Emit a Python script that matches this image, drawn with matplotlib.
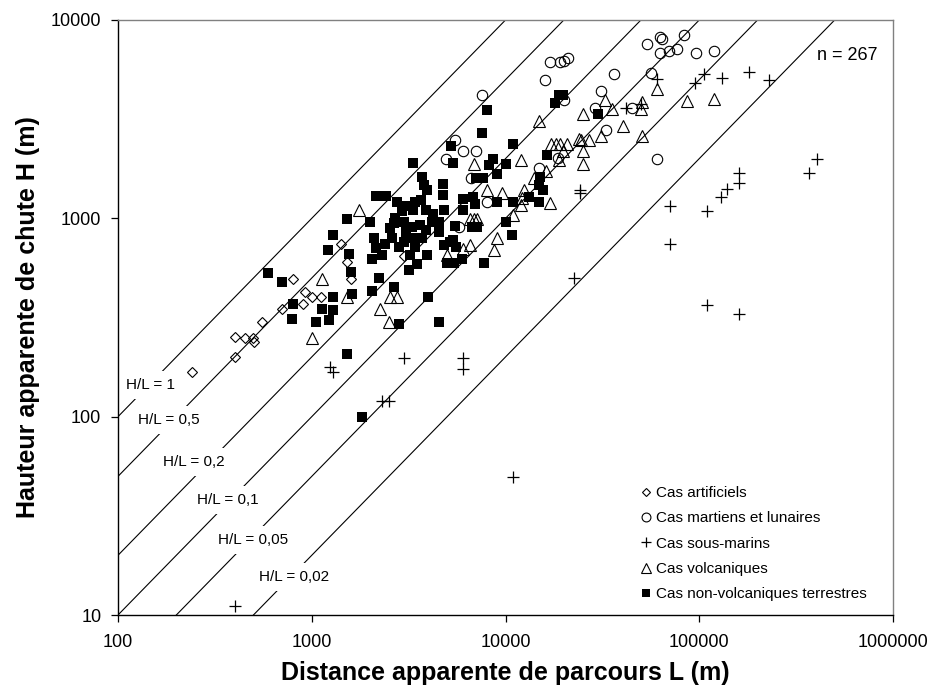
import matplotlib
matplotlib.use('Agg')
import matplotlib.pyplot as plt
import numpy as np

plt.rcParams['font.family'] = ['Liberation Sans', 'DejaVu Sans']

# Cas artificiels
art_L = [240, 402, 402, 452, 499, 503, 552, 700, 803, 904, 923, 1006, 1116, 1410, 1514, 1589, 2993]
art_H = [168, 200, 251, 250, 248, 237, 300, 351, 497, 369, 425, 399, 401, 746, 600, 497, 644]

# Cas martiens et lunaires
mars_L = [7540, 5487, 6013, 7018, 4931, 6610, 8054, 5775, 16970, 19100, 20110, 20940, 15990, 20110,
          36310, 31110, 28970, 33020, 14940, 18730, 53550, 62700, 64450, 62700, 70040, 76470, 83400,
          95870, 119600, 56150, 44800, 60280]
mars_H = [4165, 2492, 2183, 2183, 2000, 1603, 1208, 904, 6130, 6130, 6180, 6420, 4997, 3963,
          5357, 4363, 3611, 2798, 1801, 2022, 7586, 8195, 7978, 6805, 6965, 7104, 8356,
          6805, 6965, 5395, 3611, 2000]

# Cas sous-marins
sub_L = [60280, 95060, 105800, 130600, 180600, 229900, 49860, 70630, 110000, 129000, 139600,
         160900, 160900, 403700, 369800, 70630, 110000, 160900, 24240, 24240, 22570, 41870,
         3004, 6013, 6013, 2296, 2513, 10970, 1242, 1282, 402]
sub_H = [5012, 4804, 5313, 5114, 5458, 4997, 3783, 1150, 1088, 1281, 1400,
         1698, 1506, 1983, 1692, 746, 364.5, 331, 1384, 1342, 500, 3611,
         198.7, 198.7, 173.5, 120.1, 120, 49.7, 178, 168, 11.1]

# Cas volcaniques
volc_L = [14940, 25210, 32620, 35320, 40270, 17110, 18160, 19100, 20840, 24040, 24440, 27070,
          31000, 25210, 19870, 18950, 25210, 16180, 14030, 11980, 6902, 8054, 9556, 12460, 11980,
          16970, 10970, 6558, 6877, 1760, 9008, 8750, 6558, 6013, 5008, 2535, 2764, 2251, 2504,
          60280, 50470, 49860, 86100, 119600, 50470, 1126, 1006, 1514, 7153, 12160]
volc_H = [3091, 3342, 3931, 3569, 2907, 2359, 2359, 2359, 2359, 2521, 2472, 2472,
          2588, 2183, 2183, 1976, 1886, 1730, 1596, 1976, 1886, 1384, 1342, 1384, 1163,
          1194, 1044, 997, 997, 1097, 796, 696, 737, 703, 651, 401, 401, 348, 300,
          4502, 3855, 3569, 3885, 3977, 2588, 497, 248, 401, 997, 1259]

# Cas non-volcaniques terrestres
terr_L = [597, 700, 803, 794, 1052, 1126, 1206, 1287, 1283, 1227, 1292, 1515, 1566, 1515,
          3343, 5378, 3694, 3796, 4775, 4741, 2146, 2417, 2745, 2913, 3411, 3343, 3887, 4815,
          6056, 6056, 6821, 6961, 1998, 2658, 2535, 3065, 3620, 4160, 4553, 4553, 5489,
          2096, 2388, 2146, 2831, 2993, 3343, 3411, 2039, 2296, 3215, 3920, 3506, 3188,
          4815, 5378, 4972, 5424, 5941, 1589, 2216, 1608, 2039, 2658, 3995, 2831, 4553,
          8054, 7540, 10900, 5214, 16430, 18950, 19870, 18010, 30130, 8590, 8250, 9008,
          10060, 7018, 7627, 15070, 14940, 15560, 3651, 9008, 10900, 13270, 14940, 10060,
          6692, 7100, 10760, 5170, 5553, 7745, 1811, 3920,
          2700, 3000, 3300, 3700, 3900, 2600, 4200, 3100]
terr_H = [530, 478, 372, 309, 300, 351, 696, 821, 344, 306, 401, 997, 664, 206,
          1899, 1899, 1615, 1466, 1495, 1306, 1291, 1291, 1208, 1088, 1208, 1097, 1097, 1097,
          1257, 1097, 1281, 1186, 958, 947, 898, 853, 922, 958, 958, 853, 911,
          800, 740, 712, 717, 760, 800, 717, 627, 651, 651, 651, 587, 552,
          731, 775, 596, 596, 627, 536, 503, 414, 430, 451, 401, 292, 300,
          3500, 2690, 2378, 2305, 2077, 4200, 4165, 3810, 3370, 2000, 1849, 1680,
          1886, 1603, 1603, 1615, 1466, 1395, 1243, 1208, 1208, 1281, 1208, 958,
          904, 904, 821, 760, 717, 596, 100, 1395,
          1000, 960, 900, 800, 870, 800, 1050, 1150]

# rapports H/L des droites de reference et position de leurs etiquettes
ratios = [1, 0.5, 0.2, 0.1, 0.05, 0.02]
ratio_labels = ['H/L = 1', 'H/L = 0,5', 'H/L = 0,2', 'H/L = 0,1', 'H/L = 0,05', 'H/L = 0,02']
label_L = [147, 182, 245, 367, 495, 810]
label_H = [144, 96, 59, 38, 23.9, 15.6]

x_ticks = [100, 1000, 10000, 100000, 1000000]
x_ticklabels = ['100', '1000', '10000', '100000', '1000000']
y_ticks = [10, 100, 1000, 10000]
y_ticklabels = ['10', '100', '1000', '10000']

fig = plt.figure(figsize=(9.33, 6.9), dpi=100)
ax = fig.add_axes([118 / 933, 1 - 615 / 690, 775 / 933, 595 / 690])
ax.set_xscale('log')
ax.set_yscale('log')
ax.set_xlim(100, 1e6)
ax.set_ylim(10, 1e4)

# droites H/L constantes
Lr = np.array([100, 1e6])
for r in ratios:
    ax.plot(Lr, r * Lr, color='black', lw=0.8, zorder=1)
for txt, lx, ly in zip(ratio_labels, label_L, label_H):
    ax.text(lx, ly, txt, fontsize=11, ha='center', va='center', zorder=2,
            bbox=dict(boxstyle='square,pad=0.45', facecolor='white', edgecolor='none'))

mk = dict(linestyle='none', color='black', zorder=3)
ax.plot(art_L, art_H, marker='D', markersize=4.8, markerfacecolor='none', markeredgewidth=0.8,
        label='Cas artificiels', **mk)
ax.plot(mars_L, mars_H, marker='o', markersize=7.5, markerfacecolor='none', markeredgewidth=0.8,
        label='Cas martiens et lunaires', **mk)
ax.plot(sub_L, sub_H, marker='+', markersize=8.5, markeredgewidth=0.9,
        label='Cas sous-marins', **mk)
ax.plot(volc_L, volc_H, marker='^', markersize=8.3, markerfacecolor='none', markeredgewidth=0.8,
        label='Cas volcaniques', **mk)
ax.plot(terr_L, terr_H, marker='s', markersize=7.2, markerfacecolor='black', markeredgewidth=0,
        label='Cas non-volcaniques terrestres', **mk)

ax.text(405000, 6620, 'n = 267', fontsize=13, ha='left', va='center')

ax.legend(loc='upper left', bbox_to_anchor=(0.666, 0.227), frameon=False, fontsize=11,
          handlelength=0.8, handletextpad=0.2, labelspacing=0.74, borderaxespad=0, borderpad=0.4,
          markerscale=0.85)

ax.set_xticks(x_ticks)
ax.set_xticklabels(x_ticklabels)
ax.set_yticks(y_ticks)
ax.set_yticklabels(y_ticklabels)
ax.minorticks_off()
ax.tick_params(axis='both', which='major', direction='out', length=5, width=0.9,
               labelsize=13, colors='black')
ax.tick_params(axis='x', pad=9)
ax.tick_params(axis='y', pad=7)

for s in ['left', 'bottom']:
    ax.spines[s].set_color('black')
    ax.spines[s].set_linewidth(1.0)
for s in ['top', 'right']:
    ax.spines[s].set_color('#808080')
    ax.spines[s].set_linewidth(1.0)

ax.set_xlabel('Distance apparente de parcours L (m)', fontsize=18, fontweight='bold', labelpad=7)
ax.set_ylabel('Hauteur apparente de chute H (m)', fontsize=18, fontweight='bold', labelpad=8)

fig.savefig('out.png', dpi=100)
